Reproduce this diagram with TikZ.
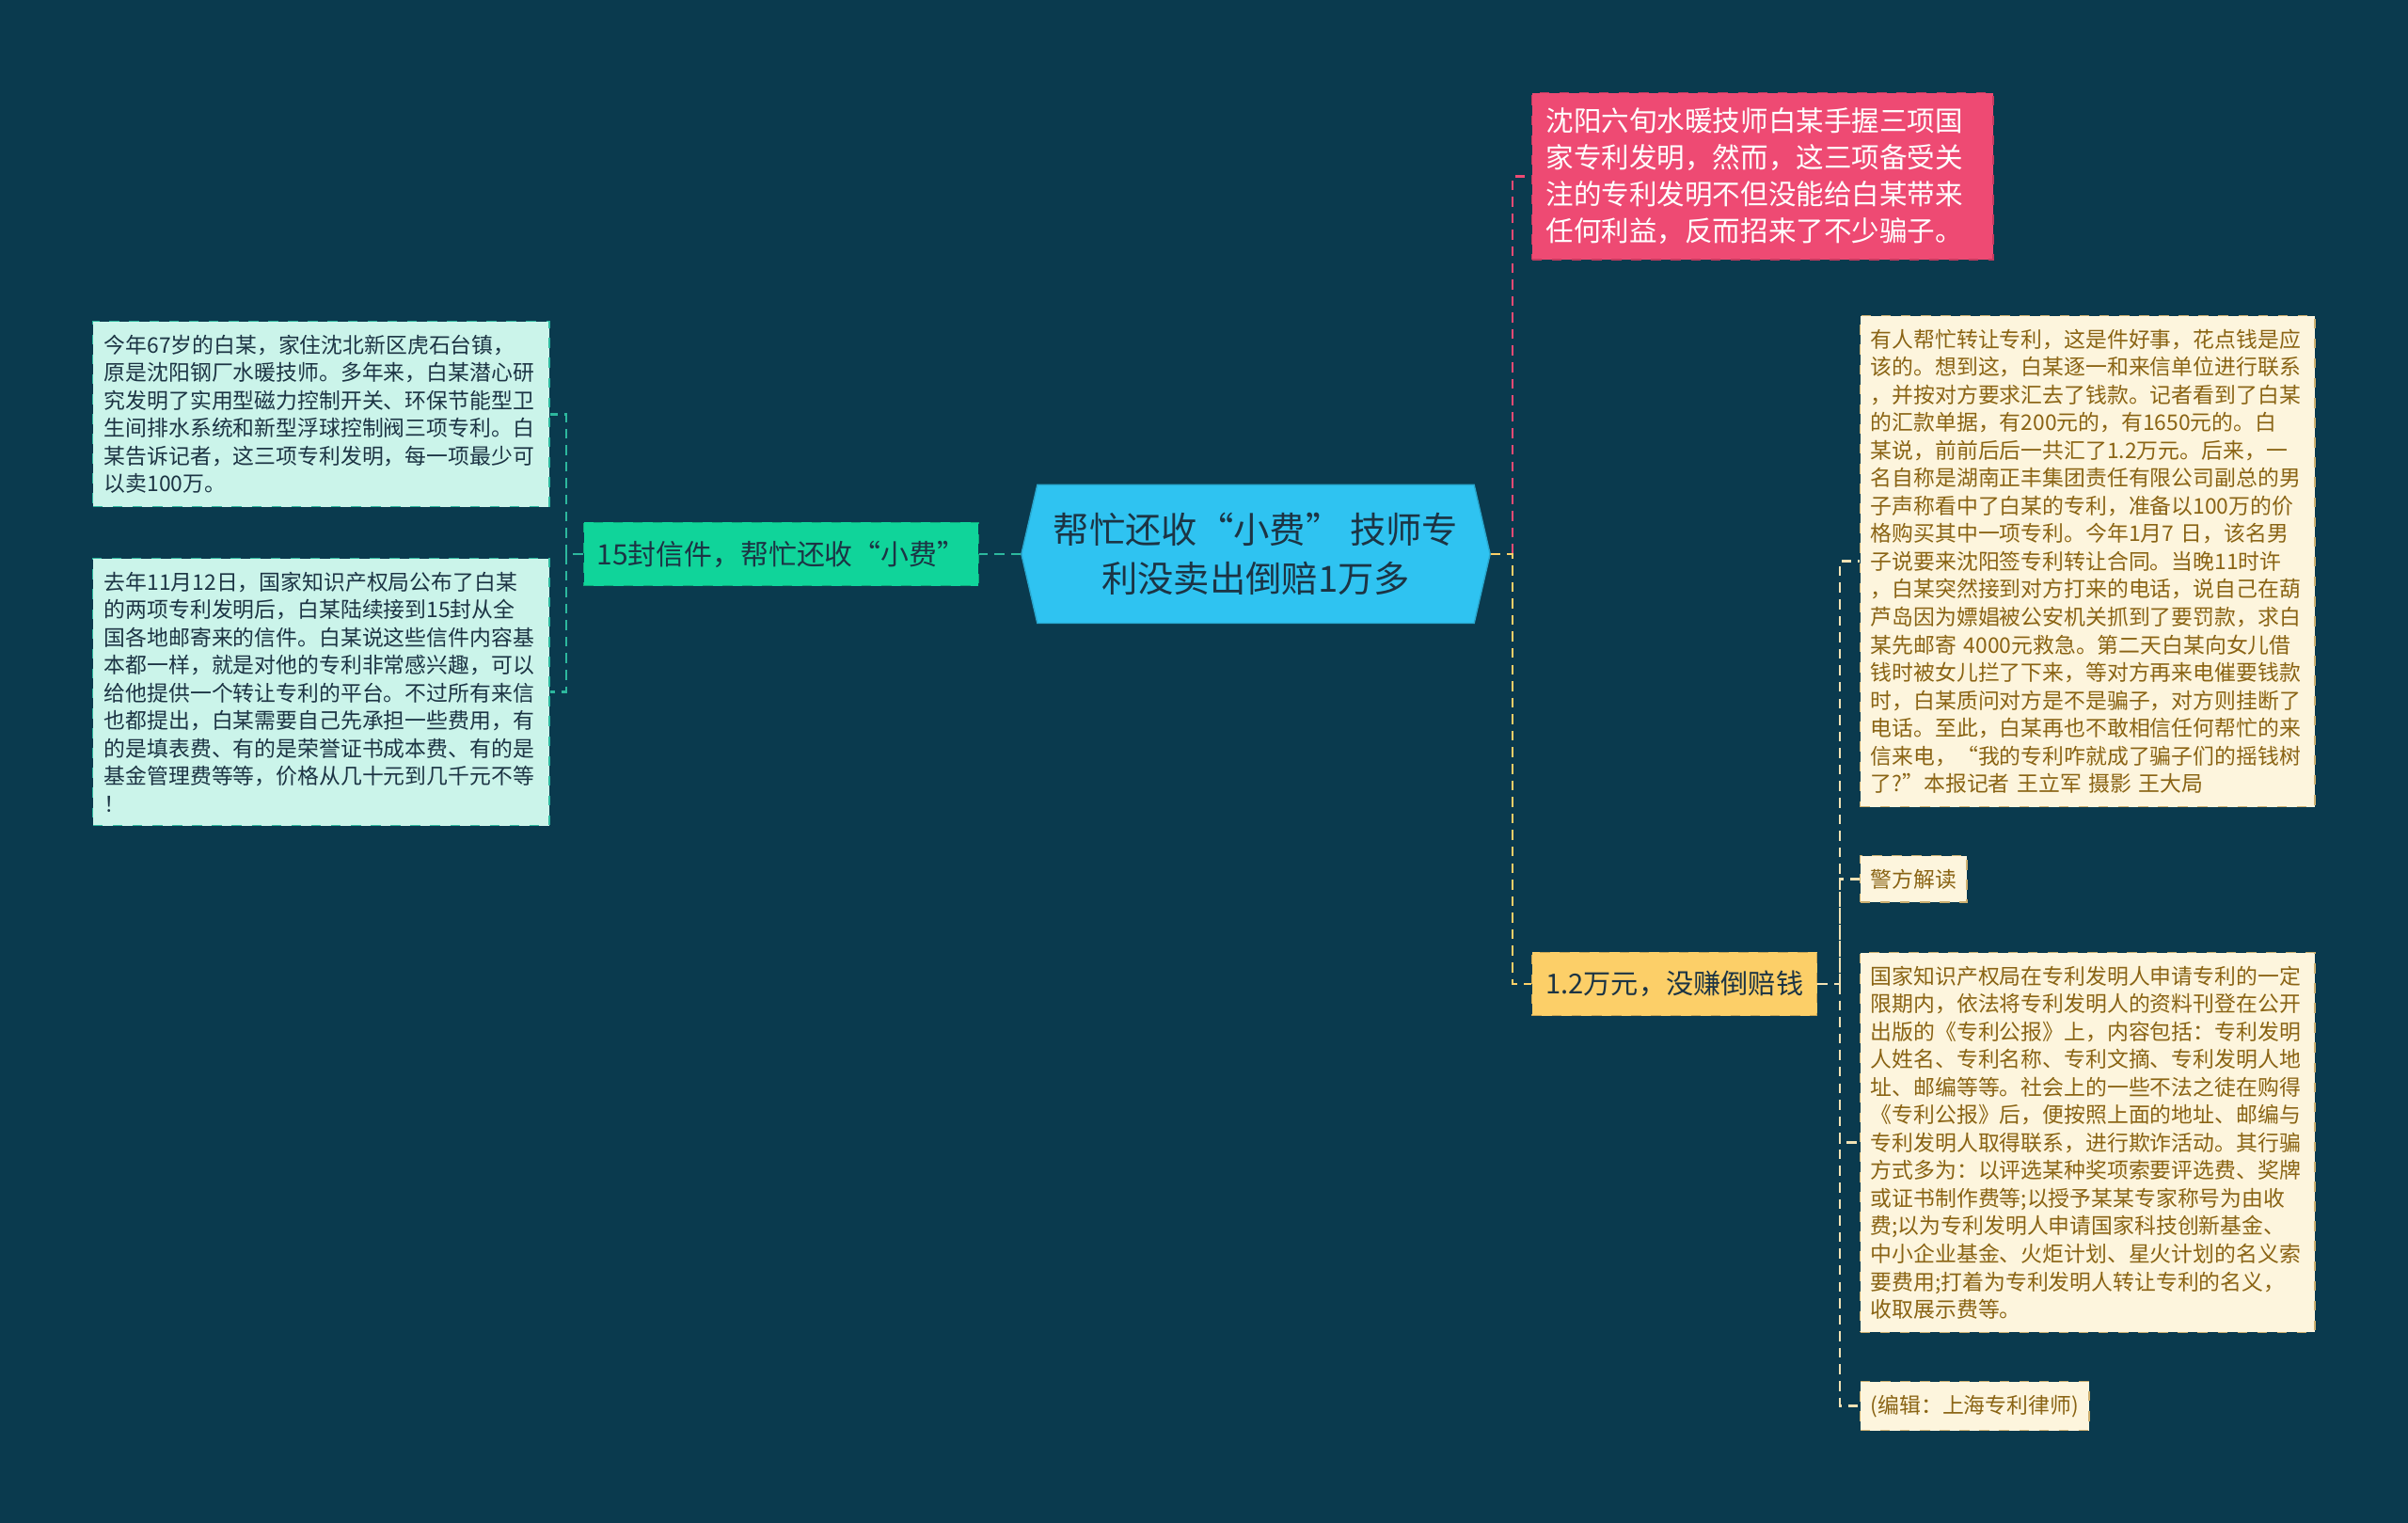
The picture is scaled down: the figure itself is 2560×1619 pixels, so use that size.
\documentclass[tikz,border=0pt]{standalone}
\usepackage{fontspec}
\setmainfont{Noto Sans CJK SC}
\usetikzlibrary{positioning,shapes.symbols}

\definecolor{bgteal}{HTML}{0A3A4E}
\definecolor{hubfill}{HTML}{2FC3F1}
\definecolor{inktext}{HTML}{1C3444}
\definecolor{greenfill}{HTML}{10D49A}
\definecolor{mintfill}{HTML}{CBF4EA}
\definecolor{mintline}{HTML}{2DB89E}
\definecolor{redfill}{HTML}{EE4A73}
\definecolor{redline}{HTML}{C43A5F}
\definecolor{yellowfill}{HTML}{FCCF68}
\definecolor{creamfill}{HTML}{FDF5DD}
\definecolor{creamline}{HTML}{CDB070}
\definecolor{browntext}{HTML}{8A6414}
\definecolor{linkcream}{HTML}{F2E2B4}

\tikzset{
  small/.style={font=\fontsize{6.5}{8.4}\selectfont},
  leafL/.style={small, draw=mintline, fill=mintfill, text=inktext, dashed, line width=0.4pt,
    anchor=north west, align=left, text width=4.61cm, inner xsep=0.12cm, inner ysep=0.14cm},
  leafR/.style={small, draw=creamline, fill=creamfill, text=browntext, dashed, line width=0.4pt,
    anchor=north west, align=left, inner xsep=0.11cm, inner ysep=0.14cm},
  topic/.style={draw=#1!80!black, fill=#1, text=inktext, dashed, line width=0.4pt,
    font=\fontsize{9}{11}\selectfont, minimum height=0.67cm, inner xsep=0.16cm},
  link/.style={dashed, dash pattern=on 3pt off 2pt, line width=0.8pt, draw=#1}
}

\begin{document}
\begin{tikzpicture}[x=0.01cm,y=-0.01cm]
\fill[bgteal] (0,0) rectangle (2560,1619);
\useasboundingbox (0,0) rectangle (2560,1619);

% centre
\node[signal, signal to=east and west, signal pointer angle=154, fill=hubfill, draw=hubfill!85!black,
  text=inktext, align=center, minimum width=4.98cm, minimum height=1.47cm,
  font=\fontsize{10.9}{14.8}\selectfont] (hub) at (1335,589)
  {帮忙还收“小费” 技师专\\利没卖出倒赔1万多};

% left branch
\node[topic=greenfill, font=\fontsize{8.5}{10}\selectfont, inner xsep=0.14cm,
  left=0.44cm of hub] (letters) {15封信件，帮忙还收“小费”};
\node[leafL] (born) at (98,341)
  {今年67岁的白某，家住沈北新区虎石台镇，\\原是沈阳钢厂水暖技师。多年来，白某潜心研\\究发明了实用型磁力控制开关、环保节能型卫\\生间排水系统和新型浮球控制阀三项专利。白\\某告诉记者，这三项专利发明，每一项最少可\\以卖100万。};
\node[leafL] (mail) at (98,593)
  {去年11月12日，国家知识产权局公布了白某\\的两项专利发明后，白某陆续接到15封从全\\国各地邮寄来的信件。白某说这些信件内容基\\本都一样，就是对他的专利非常感兴趣，可以\\给他提供一个转让专利的平台。不过所有来信\\也都提出，白某需要自己先承担一些费用，有\\的是填表费、有的是荣誉证书成本费、有的是\\基金管理费等等，价格从几十元到几千元不等\\！};

% right branch
\node[draw=redline, fill=redfill, text=white, dashed, line width=0.4pt, anchor=north west,
  align=left, text width=4.6cm, inner xsep=0.15cm, inner ysep=0.16cm,
  font=\fontsize{8.4}{11.1}\selectfont] (intro) at (1628,98)
  {沈阳六旬水暖技师白某手握三项国\\家专利发明，然而，这三项备受关\\注的专利发明不但没能给白某带来\\任何利益，反而招来了不少骗子。};
\node[topic=yellowfill, anchor=west, font=\fontsize{8.3}{10}\selectfont, inner xsep=0.145cm]
  (loss) at (1628,1046) {1.2万元，没赚倒赔钱};

\node[leafR, text width=4.61cm] (story) at (1977,335)
  {有人帮忙转让专利，这是件好事，花点钱是应\\该的。想到这，白某逐一和来信单位进行联系\\，并按对方要求汇去了钱款。记者看到了白某\\的汇款单据，有200元的，有1650元的。白\\某说，前前后后一共汇了1.2万元。后来，一\\名自称是湖南正丰集团责任有限公司副总的男\\子声称看中了白某的专利，准备以100万的价\\格购买其中一项专利。今年1月7 日，该名男\\子说要来沈阳签专利转让合同。当晚11时许\\，白某突然接到对方打来的电话，说自己在葫\\芦岛因为嫖娼被公安机关抓到了要罚款，求白\\某先邮寄 4000元救急。第二天白某向女儿借\\钱时被女儿拦了下来，等对方再来电催要钱款\\时，白某质问对方是不是骗子，对方则挂断了\\电话。至此，白某再也不敢相信任何帮忙的来\\信来电，“我的专利咋就成了骗子们的摇钱树\\了?”本报记者 王立军 摄影 王大局};
\node[leafR] (police) at (1977,909) {警方解读};
\node[leafR, text width=4.61cm] (notice) at (1977,1012)
  {国家知识产权局在专利发明人申请专利的一定\\限期内，依法将专利发明人的资料刊登在公开\\出版的《专利公报》上，内容包括：专利发明\\人姓名、专利名称、专利文摘、专利发明人地\\址、邮编等等。社会上的一些不法之徒在购得\\《专利公报》后，便按照上面的地址、邮编与\\专利发明人取得联系，进行欺诈活动。其行骗\\方式多为：以评选某种奖项索要评选费、奖牌\\或证书制作费等;以授予某某专家称号为由收\\费;以为专利发明人申请国家科技创新基金、\\中小企业基金、火炬计划、星火计划的名义索\\要费用;打着为专利发明人转让专利的名义，\\收取展示费等。};
\node[leafR] (editor) at (1977,1468) {(编辑：上海专利律师)};

% connectors
\coordinate (jl) at (602,589);
\coordinate (jr) at (1608,589);
\coordinate (jy) at (1956,1046);
\draw[link=mintline] (hub.west) -- (letters.east);
\draw[link=mintline] (letters.west) -- (jl) |- (born.east);
\draw[link=mintline] (jl) |- (mail.east);
\draw[link=redfill] (jr) |- (intro.west);
\draw[link=yellowfill] (hub.east) -- (jr) |- (loss.west);
\draw[link=linkcream] (loss.east) -- (jy) |- (story.west);
\draw[link=linkcream] (jy) |- (police.west);
\draw[link=linkcream] (jy) |- (notice.west);
\draw[link=linkcream] (jy) |- (editor.west);
\end{tikzpicture}
\end{document}
